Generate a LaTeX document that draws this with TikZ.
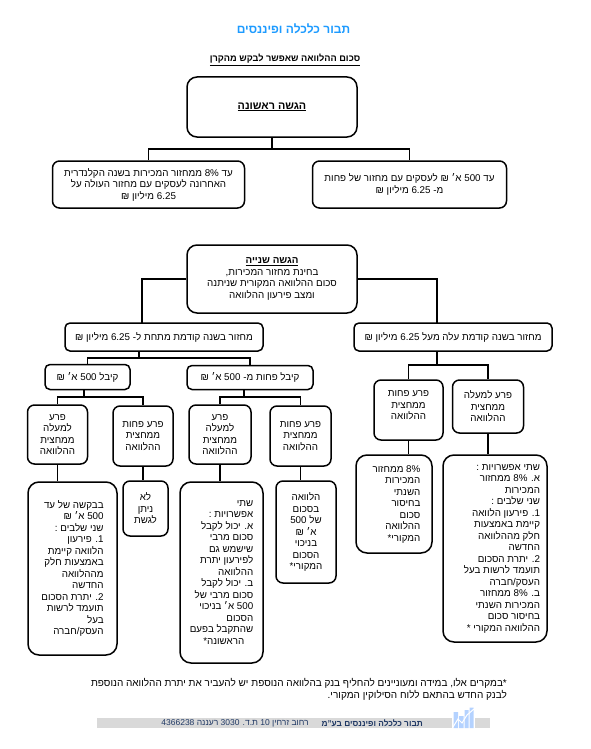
\documentclass[tikz,border=0pt]{standalone}
\usepackage{fontspec}
\setmainfont[Script=Hebrew]{Liberation Sans}
\usepackage{xcolor}
\usetikzlibrary{positioning}
\TeXXeTstate=1
\newcommand{\heb}[1]{\beginR #1\endR}
\newcommand{\ltr}[1]{\beginL #1\endL{}}
\definecolor{tavorblue}{HTML}{1E9BFF}
\definecolor{tavornavy}{HTML}{1F3864}
\definecolor{tavorbar}{HTML}{D9D9D9}
\definecolor{tavorlogo}{HTML}{B4D2FF}

\begin{document}
\begin{tikzpicture}[
    x=1pt, y=-1pt,
    nosep/.style={inner sep=0},
    bodytext/.style={font=\fontsize{9.8}{11.5}\selectfont},
    box/.style={draw, rounded corners=7pt, line width=1.5pt, nosep, align=center, bodytext},
    tallbox/.style={box, rounded corners=11pt},
    rightbox/.style={align=right},
    bar/.style={draw, line width=1.7pt}]
\useasboundingbox (0,0) rectangle (590,749);

\node (title) [nosep, text=tavorblue, font=\fontsize{12}{15}\selectfont\bfseries] at (293.5,29) {\heb{תבור כלכלה ופיננסים}};
\node (subtitle) [nosep, font=\fontsize{9.2}{12}\selectfont\bfseries] at (285,60) {\underline{\heb{סכום ההלוואה שאפשר לבקש מהקרן}}};

% first submission
\node (first) [box, rounded corners=10pt, minimum width=170, minimum height=60, font=\fontsize{10.8}{12}\selectfont\bfseries] at (272,107) {\underline{\heb{הגשה ראשונה}}};
\node (firstL) [box, minimum width=192, minimum height=47] at (148.5,184.5) {\heb{עד \ltr{8\%} ממחזור המכירות בשנה הקלנדרית}\\\heb{האחרונה לעסקים עם  מחזור העולה על}\\\heb{6.25 מיליון ₪}};
\node (firstR) [box, minimum width=194, minimum height=47] at (409.5,184.5) {\heb{עד 500 א׳ ₪ לעסקים עם מחזור של פחות}\\\heb{מ- 6.25 מיליון ₪}};

% second submission
\node (second) [box, rounded corners=10pt, minimum width=170, minimum height=68] at (272,279) {\underline{\heb{\bfseries הגשה שנייה}}\\\heb{בחינת מחזור המכירות,}\\\heb{סכום ההלוואה המקורית שניתנה}\\\heb{ומצב פירעון ההלוואה}};
\node (low) [box, rounded corners=5pt, minimum width=198, minimum height=28] at (164,337) {\heb{מחזור בשנה קודמת מתחת ל- 6.25 מיליון ₪}};
\node (high) [box, rounded corners=5pt, minimum width=198, minimum height=28] at (453,337) {\heb{מחזור בשנה קודמת עלה מעל 6.25 מיליון ₪}};
\node (got) [box, rounded corners=5pt, minimum width=85, minimum height=25] at (87.5,377) {\heb{קיבל 500 א׳ ₪}};
\node (gotless) [box, rounded corners=5pt, minimum width=126, minimum height=24] at (250,377.5) {\heb{קיבל פחות מ- 500 א׳ ₪}};

\node (gotA) [box, minimum width=60, minimum height=59] at (57.5,434.5) {\heb{פרע}\\\heb{למעלה}\\\heb{ממחצית}\\\heb{ההלוואה}};
\node (gotB) [box, minimum width=60, minimum height=60] at (143,436) {\heb{פרע פחות}\\\heb{ממחצית}\\\heb{ההלוואה}};
\node (lessA) [box, minimum width=62, minimum height=59] at (220,434.5) {\heb{פרע}\\\heb{למעלה}\\\heb{ממחצית}\\\heb{ההלוואה}};
\node (lessB) [box, minimum width=61, minimum height=60] at (300.5,436) {\heb{פרע פחות}\\\heb{ממחצית}\\\heb{ההלוואה}};
\node (highA) [box, minimum width=69, minimum height=60] at (408.5,410) {\heb{פרע פחות}\\\heb{ממחצית}\\\heb{ההלוואה}\\[-2pt]~};
\node (highB) [box, minimum width=71, minimum height=53] at (488,406.5) {\heb{פרע למעלה}\\\heb{ממחצית}\\\heb{ההלוואה}};

% answers
\node (gotAtxt) [tallbox, rightbox, minimum width=89, minimum height=173] at (72.5,568.5) {\heb{בבקשה של עד}\\\heb{500 א׳ ₪}\\\heb{שני שלבים :}\\\heb{1. פירעון}\\\hspace*{3pt}\heb{הלוואה קיימת}\\\heb{באמצעות חלק}\\\heb{מההלוואה}\\\heb{החדשה}\\\heb{2. יתרת הסכום}\\\heb{תועמד לרשות}\\\heb{בעל}\\\heb{העסק/חברה}};
\node (gotBtxt) [box, minimum width=45, minimum height=55] at (145.5,508.5) {\heb{לא}\\\heb{ניתן}\\\heb{לגשת}};
\node (lessAtxt) [tallbox, rightbox, minimum width=83, minimum height=181] at (221.5,572.5) {\heb{שתי}\\\heb{אפשרויות :}\\\heb{א. יכול לקבל}\\\heb{סכום מרבי}\\\heb{שישמש גם}\\\heb{לפירעון יתרת}\\\heb{ההלוואה}\\\heb{ב.  יכול לקבל}\hspace*{2pt}\\\heb{סכום מרבי של}\\\heb{500 א׳ בניכוי}\hspace*{4pt}\\\heb{הסכום}\hspace*{17pt}\\\heb{שהתקבל בפעם}\\\heb{הראשונה*}\hspace*{9pt}};
\node (lessBtxt) [box, minimum width=60, minimum height=102] at (306,532) {\heb{הלוואה}\\\heb{בסכום}\\\heb{של 500}\\\heb{א׳ ₪}\\\heb{בניכוי}\\\heb{הסכום}\\\heb{המקורי*}};
\node (highAtxt) [box, tallbox, rightbox, minimum width=76, minimum height=98] at (394,504) {\hspace*{5pt}\heb{\ltr{8\%} ממחזור}\\\heb{המכירות}\\\heb{השנתי}\\\heb{בחיסור}\\\heb{סכום}\\\heb{ההלוואה}\\\heb{המקורי*}};
\node (highBtxt) [tallbox, rightbox, minimum width=104, minimum height=187] at (495,548.5) {\heb{שתי אפשרויות :}\\\heb{א. \ltr{8\%} ממחזור}\\\heb{המכירות}\\\heb{שני שלבים :}\\\heb{1. פירעון הלוואה}\\\heb{קיימת באמצעות}\\\heb{חלק מההלוואה}\\\heb{החדשה}\\\heb{2. יתרת הסכום}\\\hspace*{14pt}\heb{תועמד לרשות בעל}\\\heb{העסק/חברה}\\\heb{ב. \ltr{8\%} ממחזור}\\\heb{המכירות השנתי}\\\heb{בחיסור סכום}\\\heb{ההלוואה המקורי *}};

% branch points
\coordinate (forkFirst) at (272,149);
\coordinate (forkLow) at (139,358);
\coordinate (forkHigh) at (437,365);
\coordinate (forkGot) at (84,397);
\coordinate (forkLess) at (244,397);
\coordinate (dropLow) at (142,323);
\coordinate (dropHigh) at (437,323);

\path[bar] (first.south) -- (forkFirst);
\path[bar] (firstL.north) |- (forkFirst) -| (firstR.north);
\path[bar] (second.west) -| (dropLow);
\path[bar] (second.east) -| (dropHigh);
\path[bar] (low.south -| forkLow) -- (forkLow);
\path[bar] (got.north) |- (forkLow) -| (gotless.north);
\path[bar] (high.south -| forkHigh) -- (forkHigh);
\path[bar] (highA.north) |- (forkHigh) -| (highB.north);
\path[bar] (got.south -| forkGot) -- (forkGot);
\path[bar] (gotA.north) |- (forkGot) -| (gotB.north);
\path[bar] (gotless.south -| forkLess) -- (forkLess);
\path[bar] (lessA.north) |- (forkLess) -| (lessB.north);
\path[bar] (gotA.south) -- (gotA.south |- gotAtxt.north);
\path[bar] (gotB.south) -- (gotB.south |- gotBtxt.north);
\path[bar] (lessA.south) -- (lessA.south |- lessAtxt.north);
\path[bar] (lessB.south) -- (lessB.south |- lessBtxt.north);
\path[bar] (highA.south) -- (highA.south |- highAtxt.north);
\path[bar] (highB.south) -- (highB.south |- highBtxt.north);

% footnote and footer
\node (note) [nosep, align=right, anchor=north east, font=\fontsize{10}{12}\selectfont] at (507,678) {\heb{*במקרים אלו, במידה ומעוניינים להחליף בנק בהלוואה הנוספת יש להעביר את יתרת ההלוואה הנוספת}\\\heb{לבנק החדש בהתאם ללוח הסילוקין המקורי.}};
\fill[tavorbar] (97,718) rectangle (452,728);
\fill[tavorbar] (475,718) rectangle (490,728);
\fill[tavorlogo] (453.5,712) rectangle (458,728) (459,716) rectangle (463.5,728) (464.5,710) rectangle (468.5,728) (469.5,707.5) rectangle (473.5,728);
\draw[white, line width=1pt] (453,727) -- (458,719) -- (462,723) -- (467,715) -- (474,709);
\node (company) [nosep, anchor=east, text=tavornavy, font=\fontsize{8.3}{10}\selectfont\bfseries] at (423,723) {\heb{תבור כלכלה ופיננסים בע"מ}};
\node (address) [nosep, anchor=east, text=tavornavy, font=\fontsize{8.5}{10}\selectfont] at (309,723) {\heb{רחוב זרחין 10 ת.ד. 3030 רעננה 4366238}};
\end{tikzpicture}
\end{document}
